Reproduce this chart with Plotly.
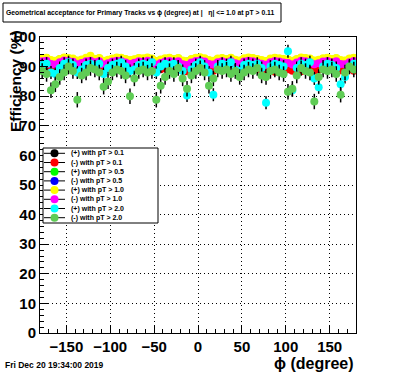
import plotly.graph_objects as go

# ---------------- data ----------------
PHI = [-177.5 + 5 * i for i in range(72)]

NAMES = ["(+) with pT > 0.1", "(-) with pT > 0.1", "(+) with pT > 0.5", "(-) with pT > 0.5",
         "(+) with pT > 1.0", "(-) with pT > 1.0", "(+) with pT > 2.0", "(-) with pT > 2.0"]
COLORS = ["#000000", "#ff0000", "#00ff00", "#0000ff", "#ffff00", "#ff00ff", "#00ffff", "#5fcc55"]

POS_01 = [90.9, 91.1, 90.2, 90.0, 90.7, 91.2, 91.0, 90.8, 90.1, 90.4, 90.9, 91.1,
          90.7, 91.0, 90.0, 90.3, 90.8, 91.1, 91.0, 90.6, 90.1, 90.5, 90.9, 90.8,
          91.1, 90.7, 90.0, 90.4, 90.8, 91.0, 90.6, 90.9, 90.1, 89.8, 90.6, 91.0,
          91.2, 90.8, 90.2, 90.0, 90.7, 90.9, 90.6, 91.0, 90.3, 90.1, 90.8, 91.1,
          90.9, 90.6, 90.2, 89.9, 90.7, 91.0, 90.8, 90.6, 90.4, 90.0, 90.6, 91.1,
          90.9, 90.7, 90.1, 90.3, 90.8, 91.0, 90.6, 90.9, 90.2, 90.1, 90.7, 91.0]
NEG_01 = [89.0, 89.6, 88.8, 88.6, 89.4, 89.9, 89.7, 89.5, 88.7, 89.1, 89.6, 89.8,
          89.4, 89.7, 88.6, 89.0, 89.5, 89.8, 89.7, 89.3, 88.8, 89.2, 89.6, 89.5,
          89.8, 89.4, 88.6, 89.1, 89.5, 89.7, 89.3, 89.6, 88.7, 88.4, 89.3, 89.7,
          89.9, 89.5, 88.8, 88.6, 89.4, 89.6, 89.3, 88.2, 89.0, 88.8, 89.5, 89.8,
          89.6, 89.3, 88.9, 88.5, 89.4, 88.3, 89.5, 89.3, 89.1, 88.6, 89.3, 88.4,
          89.6, 89.4, 88.7, 89.0, 89.5, 89.7, 89.3, 89.6, 88.8, 88.7, 89.4, 88.6]
POS_05 = [92.6, 92.8, 92.0, 91.8, 92.5, 92.9, 92.7, 92.5, 91.9, 92.2, 92.7, 92.9,
          92.5, 92.7, 91.8, 92.1, 92.6, 92.9, 92.8, 92.4, 92.0, 92.3, 92.7, 92.6,
          92.9, 92.5, 91.8, 92.2, 92.6, 92.8, 92.4, 92.7, 91.9, 91.7, 92.4, 92.8,
          92.9, 92.6, 92.0, 91.8, 92.5, 92.7, 92.4, 92.8, 92.1, 91.9, 92.6, 92.9,
          92.7, 92.4, 92.0, 91.7, 92.5, 92.8, 92.6, 92.4, 92.2, 91.8, 92.4, 92.9,
          92.7, 92.5, 91.9, 92.1, 92.6, 92.8, 92.4, 92.7, 92.0, 91.9, 92.5, 92.8]
NEG_05 = [92.3, 92.5, 91.6, 91.5, 92.2, 92.6, 92.4, 92.2, 91.5, 91.9, 92.4, 92.6,
          92.2, 92.4, 91.5, 91.8, 92.3, 92.6, 92.5, 92.1, 91.6, 92.0, 92.4, 92.3,
          92.6, 92.2, 91.5, 91.9, 92.3, 92.5, 92.1, 92.4, 91.6, 91.4, 92.1, 92.5,
          92.6, 92.3, 91.7, 91.5, 92.2, 92.4, 92.1, 92.5, 91.8, 91.6, 92.3, 92.6,
          92.4, 92.1, 91.7, 91.4, 92.2, 92.5, 92.3, 92.1, 91.9, 91.5, 92.1, 92.6,
          92.4, 92.2, 91.6, 91.8, 92.3, 92.5, 92.1, 92.4, 91.7, 91.6, 92.2, 92.5]
POS_10 = [92.8, 93.0, 92.2, 92.0, 92.6, 93.1, 92.9, 92.7, 92.1, 92.4, 93.0, 93.7,
          92.6, 92.9, 92.0, 92.3, 92.7, 93.1, 93.0, 92.6, 92.2, 92.5, 92.9, 92.8,
          93.1, 92.7, 91.9, 92.4, 92.8, 93.0, 92.6, 92.9, 92.1, 91.8, 92.6, 93.0,
          93.2, 92.8, 92.2, 92.0, 92.7, 92.9, 92.6, 93.0, 92.3, 92.1, 92.8, 93.1,
          92.9, 92.6, 92.2, 91.9, 92.7, 93.0, 92.8, 92.6, 92.4, 92.0, 92.6, 93.1,
          92.9, 92.7, 92.1, 92.3, 92.8, 93.0, 92.6, 92.9, 92.2, 92.1, 92.7, 93.0]
NEG_10 = [91.8, 92.0, 90.9, 90.7, 91.5, 92.1, 91.9, 91.6, 90.8, 91.2, 91.8, 92.0,
          91.5, 91.8, 90.7, 91.1, 91.7, 92.0, 91.9, 91.4, 90.9, 91.3, 91.8, 91.6,
          92.0, 91.5, 90.6, 91.2, 91.7, 91.9, 91.4, 91.8, 90.8, 90.5, 91.4, 91.9,
          92.1, 91.7, 90.9, 90.7, 91.5, 91.8, 91.4, 91.9, 91.1, 90.8, 91.7, 92.0,
          91.8, 91.4, 91.0, 90.6, 91.5, 91.9, 91.7, 91.4, 91.2, 90.7, 91.4, 92.0,
          91.8, 91.5, 90.8, 91.1, 91.7, 91.9, 91.4, 91.8, 90.9, 90.8, 91.5, 91.9]
POS_20 = [90.5, 91.0, 88.0, 87.5, 89.5, 91.0, 91.5, 90.5, 88.0, 89.0, 90.5, 91.0,
          90.0, 91.0, 87.5, 89.5, 90.5, 91.0, 91.5, 90.0, 88.5, 89.0, 90.5, 91.0,
          90.5, 91.5, 88.0, 90.0, 91.0, 90.5, 91.0, 90.0, 88.5, 80.2, 89.0, 90.5,
          91.5, 90.0, 88.0, 80.5, 90.0, 91.0, 90.5, 91.5, 89.0, 88.5, 90.5, 91.0,
          90.5, 91.0, 89.5, 77.8, 90.0, 91.0, 90.5, 90.0, 95.2, 82.0, 89.5, 91.0,
          90.5, 91.5, 86.0, 83.0, 90.0, 91.0, 90.5, 89.5, 84.0, 86.5, 90.0, 91.0]
NEG_20 = [88.5, 87.5, 82.0, 84.0, 86.5, 88.0, 90.0, 88.5, 78.8, 87.0, 88.0, 89.5,
          89.0, 88.0, 83.2, 85.0, 88.0, 89.0, 88.5, 87.0, 80.0, 86.0, 88.5, 89.0,
          88.0, 88.5, 78.8, 83.5, 86.5, 88.5, 87.5, 89.5, 86.0, 82.5, 87.0, 88.5,
          89.5, 88.0, 83.5, 86.0, 89.0, 88.5, 89.0, 87.5, 88.5, 86.5, 88.0, 89.0,
          88.5, 89.5, 87.0, 86.5, 88.5, 89.0, 88.0, 87.5, 81.5, 82.5, 87.0, 89.5,
          88.5, 88.0, 78.2, 86.5, 89.0, 88.5, 89.0, 87.5, 80.5, 88.0, 90.0, 89.0]

SERIES = [POS_01, NEG_01, POS_05, NEG_05, POS_10, NEG_10, POS_20, NEG_20]
ERRORS = [0.3, 0.3, 0.5, 0.5, 0.9, 0.9, 2.2, 2.6]

X_TICKS = [-150, -100, -50, 0, 50, 100, 150]
Y_TICKS = [0, 10, 20, 30, 40, 50, 60, 70, 80, 90, 100]

TITLE = "Geometrical acceptance for Primary Tracks vs \u03d5 (degree) at |   \u03b7| <= 1.0 at pT > 0.11"
DATE = "Fri Dec 20 19:34:00 2019"

# ---------------- figure ----------------
W, H = 396, 372
ML, MR, MT, MB = 40, 40, 37, 39
PW, PH = W - ML - MR, H - MT - MB
FONT = "Liberation Sans, Arial, Helvetica, sans-serif"


def px(x):
    return (x - ML) / PW


def py(y):
    return (H - MB - y) / PH


fig = go.Figure()
for name, col, vals, err in zip(NAMES, COLORS, SERIES, ERRORS):
    fig.add_trace(go.Scatter(
        x=PHI, y=vals, mode="markers", name=name,
        marker=dict(color=col, size=8, line=dict(width=0)),
        error_y=dict(type="data", array=[err] * len(vals), color="black",
                     thickness=1.5, width=0),
        showlegend=False))

axis_common = dict(
    showline=True, linecolor="black", linewidth=1, mirror=True,
    ticks="inside", tickcolor="black", tickwidth=1, ticklen=8,
    showgrid=True, gridcolor="black", gridwidth=1, griddash="1px,3px",
    zeroline=False,
    tickfont=dict(family=FONT, size=15, color="black", weight="bold"),
)

fig.update_xaxes(range=[-180, 180], tickvals=X_TICKS,
                 ticktext=[("\u2212" + str(-v)) if v < 0 else str(v) for v in X_TICKS],
                 minor=dict(dtick=10, tick0=0, ticks="inside", ticklen=4,
                            tickcolor="black", showgrid=False),
                 **axis_common)
fig.update_yaxes(range=[0, 100], tickvals=Y_TICKS,
                 minor=dict(dtick=2, tick0=0, ticks="inside", ticklen=4,
                            tickcolor="black", showgrid=False),
                 **axis_common)

shapes = []
annotations = []

# title box
shapes.append(dict(type="rect", xref="paper", yref="paper",
                   x0=px(3), x1=px(281), y0=py(22), y1=py(3),
                   line=dict(color="black", width=1), fillcolor="white", layer="above"))
annotations.append(dict(xref="paper", yref="paper", x=px(4), y=py(12.5),
                        xanchor="left", yanchor="middle", showarrow=False,
                        text="<b>" + TITLE + "</b>",
                        font=dict(family=FONT, size=6.8, color="black")))

# legend box
LX0, LX1, LY0, LY1 = 43, 158, 148, 223
shapes.append(dict(type="rect", xref="paper", yref="paper",
                   x0=px(LX0), x1=px(LX1), y0=py(LY1), y1=py(LY0),
                   line=dict(color="black", width=1), fillcolor="white", layer="above"))
for i, (name, col) in enumerate(zip(NAMES, COLORS)):
    ry = 153.3 + i * 9.2
    shapes.append(dict(type="line", xref="paper", yref="paper",
                       x0=px(44), x1=px(65), y0=py(ry), y1=py(ry),
                       line=dict(color="black", width=1), layer="above"))
    shapes.append(dict(type="circle", xref="paper", yref="paper",
                       x0=px(54.5 - 4), x1=px(54.5 + 4), y0=py(ry + 4), y1=py(ry - 4),
                       line=dict(width=0), fillcolor=col, layer="above"))
    annotations.append(dict(xref="paper", yref="paper", x=px(69), y=py(ry),
                            xanchor="left", yanchor="middle", showarrow=False,
                            text="<b>" + name + "</b>",
                            font=dict(family=FONT, size=7, color="black")))

# axis titles
annotations.append(dict(xref="paper", yref="paper", x=px(356), y=py(363),
                        xanchor="right", yanchor="middle", showarrow=False,
                        text="<b>\u03d5 (degree)</b>",
                        font=dict(family=FONT, size=16, color="black")))
annotations.append(dict(xref="paper", yref="paper", x=px(15), y=py(81),
                        xanchor="center", yanchor="middle", showarrow=False,
                        textangle=-90, text="<b>Efficiency (%)</b>",
                        font=dict(family=FONT, size=15.5, color="black")))
# date stamp
annotations.append(dict(xref="paper", yref="paper", x=px(3), y=py(365),
                        xanchor="left", yanchor="middle", showarrow=False,
                        text="<b>" + DATE + "</b>",
                        font=dict(family=FONT, size=8.5, color="black")))

fig.update_layout(
    width=W, height=H, autosize=False,
    margin=dict(l=ML, r=MR, t=MT, b=MB, pad=0),
    paper_bgcolor="white", plot_bgcolor="white",
    shapes=shapes, annotations=annotations, showlegend=False,
)

fig.write_html("out.html", include_plotlyjs=True, full_html=True,
               config={"displayModeBar": False},
               post_script="document.body.style.margin='0px';document.body.style.padding='0px';")
